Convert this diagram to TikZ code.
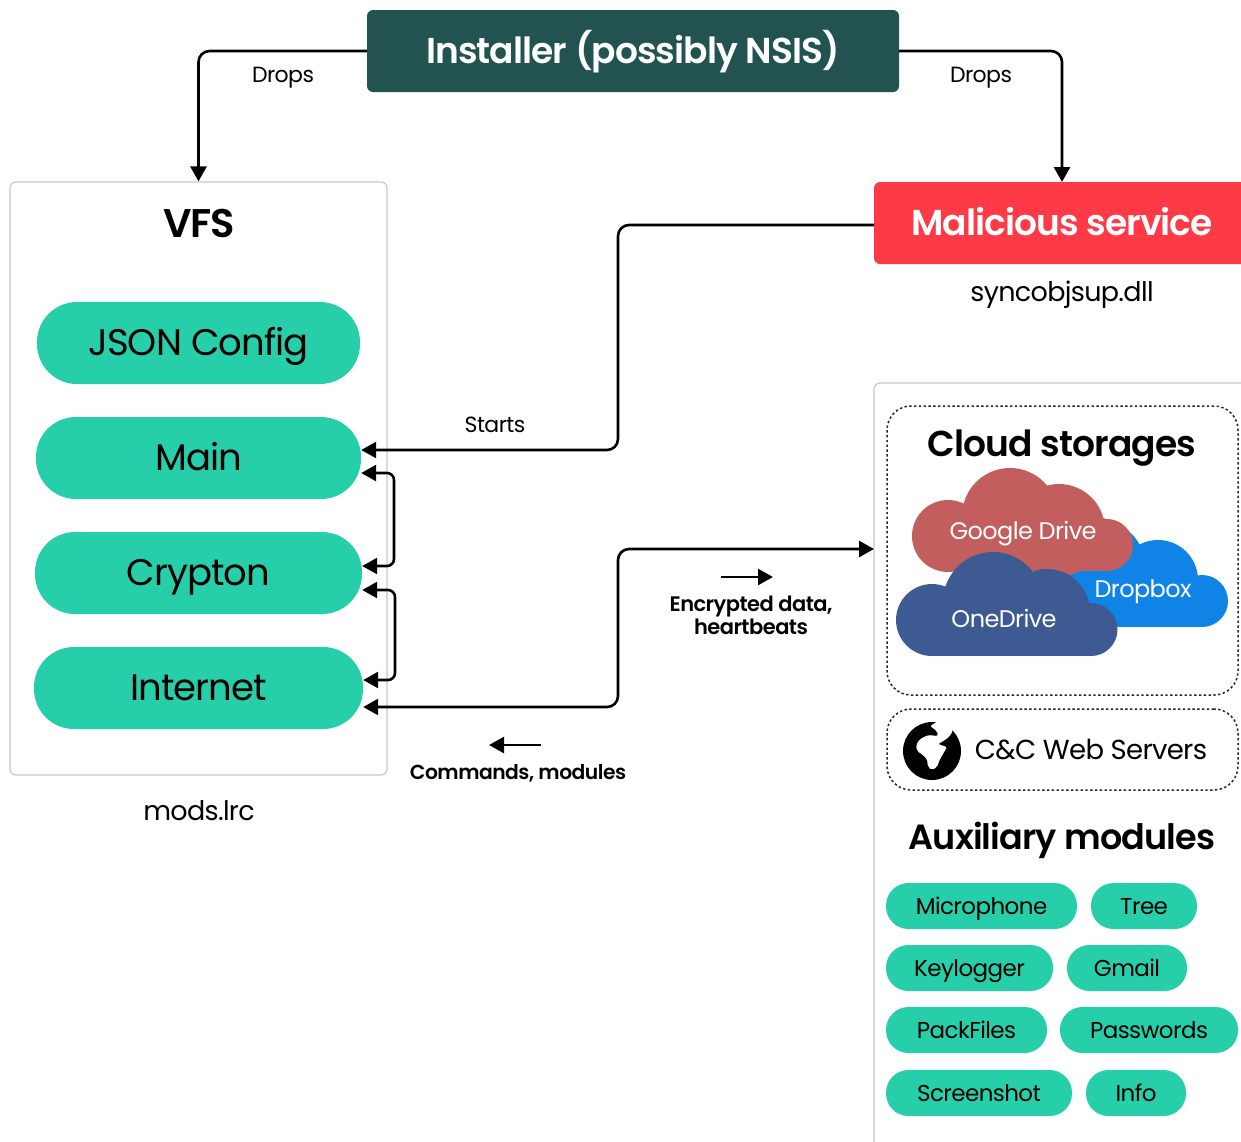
\documentclass[tikz,border=0pt]{standalone}
\usepackage{fontspec}
\setmainfont{Poppins}[LetterSpace=-2.5,BoldFont={Poppins SemiBold}]
\usetikzlibrary{arrows.meta,calc}
\definecolor{teal1}{HTML}{26CFA9}
\definecolor{darkg}{HTML}{235350}
\definecolor{redm}{HTML}{FF3A47}
\definecolor{gdrive}{HTML}{C25E5E}
\definecolor{dbox}{HTML}{1084E6}
\definecolor{odrive}{HTML}{3D5A92}
\newcommand{\fs}[1]{\fontsize{#1}{#1}\selectfont}
\newcommand{\boxat}[7][]{\node[#1,minimum width=#4pt-#2pt,minimum height=#5pt-#3pt] (#6) at ({(#2+#4)/2},{(#3+#5)/2}) {#7};}
\tikzset{
  x=1pt,y=-1pt,
  sz/.style={font=\fs{#1},text height=#1*0.7pt,text depth=0pt},
  bsz/.style={font=\bfseries\fs{#1},text height=#1*0.7pt,text depth=0pt},
  conn/.style={draw=black,line width=2.6pt,rounded corners=11pt,-{Triangle[length=15pt,width=16pt]}},
  conn2/.style={draw=black,line width=2.6pt,rounded corners=7pt,{Triangle[length=15pt,width=16pt]}-{Triangle[length=15pt,width=16pt]}},
  panel/.style={draw=black!22,line width=1.2pt,rounded corners=6pt},
  bigpill/.style={fill=teal1,rounded corners=40pt,inner sep=0pt,text=black,sz=37},
  smallpill/.style={fill=teal1,rounded corners=22.5pt,inner sep=0pt,text=black,sz=23},
  banner/.style={rounded corners=6pt,inner sep=0pt,text=white,bsz=36},
  dotbox/.style={draw=black!85,line width=1.5pt,dash pattern=on 2.4pt off 2.4pt,rounded corners=24pt,inner sep=0pt},
  lab/.style={inner sep=0pt,text=black,align=center},
  cloudtxt/.style={inner sep=0pt,text=white,sz=24},
}
\begin{document}
\begin{tikzpicture}
\useasboundingbox (0,0) rectangle (1241,1141);
% panels
\boxat[panel]{10}{182}{387}{775}{vfs}{}
\draw[draw=black!22,line width=1.2pt,rounded corners=6pt] (1260,383) -- (874,383) -- (874,1160);
% banners
\boxat[banner,fill=darkg]{367}{10}{899}{92}{inst}{Installer (possibly NSIS)}
\begin{scope}
\clip (0,0) rectangle (1241,1141);
\node[banner,fill=redm,minimum width=386pt,minimum height=82pt] (mal) at (1067,223) {};
\end{scope}
\node[lab,text=white,bsz=36] (maltxt) at (1062,223) {Malicious service};
\node[lab,sz=27] (dll) at (1062,292) {syncobjsup.dll};
% VFS
\node[lab,bsz=40] (vfst) at (199,223) {VFS};
\boxat[bigpill]{37}{302}{360}{384}{json}{JSON Config}
\boxat[bigpill]{36}{417}{361}{499}{main}{Main}
\boxat[bigpill]{35}{532}{362}{614}{crypton}{Crypton}
\boxat[bigpill]{34}{647}{363}{729}{internet}{Internet}
\node[lab,sz=27] (mods) at (199,811) {mods.lrc};
% clouds
\fill[dbox] (1092,572) circle (55) (1158,580) circle (40) (1202,601) circle (26);
\fill[dbox] (1060,590) rectangle (1202,627);
\node[cloudtxt] (dbt) at (1143,589) {Dropbox};
\fill[gdrive] (948,536) circle (36) (1010,516) circle (48) (1059,530) circle (46) (1107,545) circle (26);
\fill[gdrive] (948,530) rectangle (1107,571);
\node[cloudtxt] (gdt) at (1023,531) {Google Drive};
\fill[odrive] (932,620) circle (36) (993,602) circle (50) (1047,612) circle (43) (1091,629.5) circle (26.5);
\fill[odrive] (932,620) rectangle (1091,656);
\node[cloudtxt] (odt) at (1004,619) {OneDrive};
% dotted boxes
\boxat[dotbox]{887}{406}{1238}{695}{cloud}{}
\boxat[dotbox]{887}{709}{1238}{790}{cc}{}
\node[lab,bsz=36] (cloudt) at (1062,444) {Cloud storages};
\node[lab,sz=27.5] (cct) at (1091,750) {C\&C Web Servers};
% globe icon
\fill[black] (932,751) circle (29);
\fill[white,rounded corners=2pt] (940,720) -- (930,726) -- (937,731) -- (938,736) -- (928,735) -- (920,739) -- (916,745) -- (917,751) -- (923,755) -- (927,759) -- (928,767) -- (932,770) -- (937,767) -- (940,759) -- (947,747) -- (938,744) -- (945,740) -- (950,736) -- (953,730) -- (952,720) -- cycle;
% aux
\node[lab,bsz=35] (auxt) at (1062,837) {Auxiliary modules};
\boxat[smallpill]{886}{883}{1077}{929}{mic}{Microphone}
\boxat[smallpill]{1091}{883}{1197}{929}{tree}{Tree}
\boxat[smallpill]{886}{945}{1053}{991}{keyl}{Keylogger}
\boxat[smallpill]{1067}{945}{1187}{991}{gmail}{Gmail}
\boxat[smallpill]{886}{1007}{1047}{1053}{pack}{PackFiles}
\boxat[smallpill]{1060}{1007}{1238}{1053}{pass}{Passwords}
\boxat[smallpill]{886}{1070}{1072}{1116}{shot}{Screenshot}
\boxat[smallpill]{1086}{1070}{1186}{1116}{info}{Info}
% connectors
\coordinate (inl) at (vfs.north |- inst.west);
\coordinate (mtop) at (1062,182);
\coordinate (inr) at (mtop |- inst.east);
\draw[conn] (inst.west) -- (inl) -- (vfs.north);
\draw[conn] (inst.east) -- (inr) -- (mtop);
\draw[conn] (874,225) -- (618,225) -- (618,450) -- ($(main.east)+(0,-8)$);
\draw[conn2] ($(main.east)+(0,15)$) -- (394,473) -- (394,566) -- ($(crypton.east)+(0,-7)$);
\draw[conn2] ($(crypton.east)+(0,17)$) -- (395,590) -- (395,680) -- ($(internet.east)+(0,-8)$);
\draw[conn2,rounded corners=11pt] ($(internet.east)+(0,19)$) -- (618,707) -- (618,549) -- (874,549);
\coordinate (leg1a) at (721,577);
\coordinate (leg1b) at (773,577);
\coordinate (leg2a) at (541,745);
\coordinate (leg2b) at (489,745);
\draw[conn] (leg1a) -- (leg1b);
\draw[conn] (leg2a) -- (leg2b);
% labels
\node[lab,sz=22] (d1) at (283,75) {Drops};
\node[lab,sz=22] (d2) at (981,75) {Drops};
\node[lab,sz=22] (st) at (495,425) {Starts};
\node[lab,font=\bfseries\fs{21}] (enc) at (751,615) {Encrypted data,\\[1pt]heartbeats};
\node[lab,bsz=20.3] (cmd) at (518,772) {Commands, modules};
\end{tikzpicture}
\end{document}
